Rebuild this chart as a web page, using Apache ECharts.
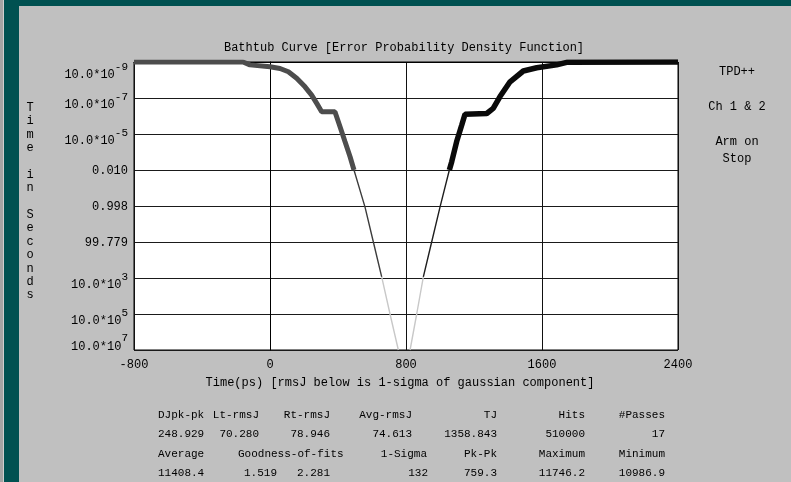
<!DOCTYPE html>
<html>
<head>
<meta charset="utf-8">
<script src="https://cdn.jsdelivr.net/npm/echarts@6/dist/echarts.min.js"></script>
<style>
  html, body { margin: 0; padding: 0; background: #005151; }
  #chart { width: 791px; height: 482px; }
</style>
</head>
<body>
<div id="chart"></div>
<script>
// ---- Bathtub data: time (ps) vs. position on the probability scale (0 = top row, 8 = bottom row)
const leftEdgeTime   = [-800, -159, -118, 0, 59, 108, 157, 206, 245, 275, 304, 382, 412, 441, 471, 494];
const leftEdgeLevel  = [0, 0, 0.08, 0.13, 0.18, 0.27, 0.45, 0.69, 0.92, 1.15, 1.38, 1.38, 1.80, 2.21, 2.63, 3.0];
const leftFitTime    = [494, 559, 608, 657];
const leftFitLevel   = [3.0, 4.03, 5.0, 5.97];
const leftExtTime    = [657, 706, 755];
const leftExtLevel   = [5.97, 7.0, 8.0];
const rightExtTime   = [824, 863, 902];
const rightExtLevel  = [8.0, 7.0, 5.97];
const rightFitTime   = [902, 951, 1000, 1055];
const rightFitLevel  = [5.97, 5.0, 4.03, 3.0];
const rightEdgeTime  = [1055, 1069, 1098, 1128, 1147, 1275, 1313, 1353, 1412, 1490, 1569, 1686, 1745, 2400];
const rightEdgeLevel = [3.0, 2.77, 2.21, 1.75, 1.45, 1.43, 1.29, 0.96, 0.55, 0.25, 0.16, 0.08, 0.01, 0];

// ---- Axis tick labels
const yTickBase = ['10.0*10', '10.0*10', '10.0*10', '0.010', '0.998', '99.779', '10.0*10', '10.0*10', '10.0*10'];
const yTickExp  = ['-9', '-7', '-5', '', '', '', '3', '5', '7'];
const xTicks    = [-800, 0, 800, 1600, 2400];

// ---- Texts
const chartTitle = 'Bathtub Curve [Error Probability Density Function]';
const xTitle = 'Time(ps) [rmsJ below is 1-sigma of gaussian component]';
const yTitleWords = ['Time', 'in', 'Seconds'];
const sideNotes = ['TPD++', 'Ch 1 & 2', 'Arm on', 'Stop'];

// ---- Measurement summary
const statHead1 = ['DJpk-pk', 'Lt-rmsJ', 'Rt-rmsJ', 'Avg-rmsJ', 'TJ', 'Hits', '#Passes'];
const statVal1  = ['248.929', '70.280', '78.946', '74.613', '1358.843', '510000', '17'];
const statHead2 = ['Average', 'Goodness-of-fits', '1-Sigma', 'Pk-Pk', 'Maximum', 'Minimum'];
const statVal2  = ['11408.4', '1.519', '2.281', '132', '759.3', '11746.2', '10986.9'];

// ---- Layout of the summary table (anchor x, alignment)
const colsRow1 = [[158, 'left'], [259, 'right'], [330, 'right'], [412, 'right'], [497, 'right'], [585, 'right'], [665, 'right']];
const colsRow3 = [[158, 'left'], [238, 'left'], [427, 'right'], [497, 'right'], [585, 'right'], [665, 'right']];
const colsRow4 = [[158, 'left'], [277, 'right'], [330, 'right'], [428, 'right'], [497, 'right'], [585, 'right'], [665, 'right']];
const rowY = [415, 434.5, 454, 473.5];

const FONT = '"Liberation Mono", "DejaVu Sans Mono", monospace';

function pairs(xs, ys) { return xs.map((x, i) => [x, ys[i]]); }

function txt(text, x, y, size, align, vAlign, extra) {
  return {
    type: 'text', x: x, y: y, silent: true, z: 10,
    style: Object.assign({
      text: text, fill: '#000',
      font: size + 'px ' + FONT,
      align: align, verticalAlign: vAlign || 'middle'
    }, extra || {})
  };
}

const graphics = [
  { type: 'rect', shape: { x: 0, y: 0, width: 3, height: 482 }, style: { fill: '#a4a4a4' }, z: -10, silent: true },
  { type: 'rect', shape: { x: 3, y: 0, width: 1, height: 482 }, style: { fill: '#cfcfcf' }, z: -10, silent: true },
  { type: 'rect', shape: { x: 19, y: 6, width: 772, height: 476 }, style: { fill: '#c0c0c0' }, z: -10, silent: true },
  txt(chartTitle, 404, 48, 12, 'center'),
  txt(xTitle, 400, 383, 12, 'center'),
  txt(yTitleWords.map(w => w.split('').join('\n')).join('\n\n'), 30, 101, 12, 'center', 'top', { lineHeight: 13.4 }),
  txt(sideNotes[0], 737, 72, 12, 'center'),
  txt(sideNotes[1], 737, 107, 12, 'center'),
  txt(sideNotes[2], 737, 142, 12, 'center'),
  txt(sideNotes[3], 737, 159, 12, 'center')
];
statHead1.forEach((t, i) => graphics.push(txt(t, colsRow1[i][0], rowY[0], 11, colsRow1[i][1])));
statVal1.forEach((t, i) => graphics.push(txt(t, colsRow1[i][0], rowY[1], 11, colsRow1[i][1])));
statHead2.forEach((t, i) => graphics.push(txt(t, colsRow3[i][0], rowY[2], 11, colsRow3[i][1])));
statVal2.forEach((t, i) => graphics.push(txt(t, colsRow4[i][0], rowY[3], 11, colsRow4[i][1])));

function lineSeries(xs, ys, color, width) {
  return {
    type: 'line', data: pairs(xs, ys), showSymbol: false, symbol: 'none',
    lineStyle: { color: color, width: width }, z: 3, silent: true
  };
}

const lastTick = yTickBase.length - 1;
const chart = echarts.init(document.getElementById('chart'), null, { renderer: 'canvas' });
chart.setOption({
  animation: false,
  backgroundColor: '#005151',
  textStyle: { fontFamily: FONT, color: '#000' },
  graphic: graphics,
  grid: {
    left: 134, right: 113, top: 62, bottom: 132,
    show: true, backgroundColor: '#ffffff', borderColor: '#000', borderWidth: 1,
    outerBoundsMode: 'none'
  },
  xAxis: {
    type: 'value', min: xTicks[0], max: xTicks[xTicks.length - 1], interval: 800,
    axisLine: { show: true, lineStyle: { color: '#000', width: 1 } },
    axisTick: { show: false },
    splitLine: { show: true, lineStyle: { color: '#111', width: 1 } },
    axisLabel: {
      margin: 9, color: '#000', fontSize: 12, fontFamily: FONT,
      showMinLabel: true, showMaxLabel: true,
      formatter: v => xTicks.includes(v) ? String(v) : ''
    }
  },
  yAxis: {
    type: 'value', min: 0, max: lastTick, interval: 1, inverse: true,
    axisLine: { show: true, lineStyle: { color: '#000', width: 1 } },
    axisTick: { show: false },
    splitLine: { show: true, lineStyle: { color: '#1a1a1a', width: 1 } },
    axisLabel: {
      margin: 6, color: '#000', fontFamily: FONT,
      showMinLabel: true, showMaxLabel: true,
      formatter: function (v) {
        const i = Math.round(v);
        const base = yTickBase[i], exp = yTickExp[i];
        if (!exp) return '{p|' + base + '}';
        const k = i === 0 ? 't' : (i === lastTick ? 'z' : 'm');
        return '{b' + k + '|' + base + '}{e' + k + '|' + exp + '}';
      },
      rich: {
        p:  { fontSize: 12, fontFamily: FONT, color: '#000', verticalAlign: 'middle', padding: [2, 0, 0, 0] },
        bt: { fontSize: 12, fontFamily: FONT, color: '#000', verticalAlign: 'middle', padding: [26, 0, 0, 0] },
        et: { fontSize: 11, fontFamily: FONT, color: '#000', verticalAlign: 'middle', padding: [10, 0, 0, 0] },
        bm: { fontSize: 12, fontFamily: FONT, color: '#000', verticalAlign: 'middle', padding: [14, 0, 0, 0] },
        em: { fontSize: 11, fontFamily: FONT, color: '#000', verticalAlign: 'middle', padding: [0, 0, 2, 0] },
        bz: { fontSize: 12, fontFamily: FONT, color: '#000', verticalAlign: 'middle', padding: [0, 0, 6, 0] },
        ez: { fontSize: 11, fontFamily: FONT, color: '#000', verticalAlign: 'middle', padding: [0, 0, 24, 0] }
      }
    }
  },
  series: [
    lineSeries(leftEdgeTime, leftEdgeLevel, '#4d4d4d', 5),
    lineSeries(leftFitTime, leftFitLevel, '#3c3c3c', 1.4),
    lineSeries(leftExtTime, leftExtLevel, '#c8c8c8', 1.4),
    lineSeries(rightExtTime, rightExtLevel, '#c8c8c8', 1.4),
    lineSeries(rightFitTime, rightFitLevel, '#1e1e1e', 1.4),
    lineSeries(rightEdgeTime, rightEdgeLevel, '#0a0a0a', 5.5)
  ]
});
</script>
</body>
</html>
